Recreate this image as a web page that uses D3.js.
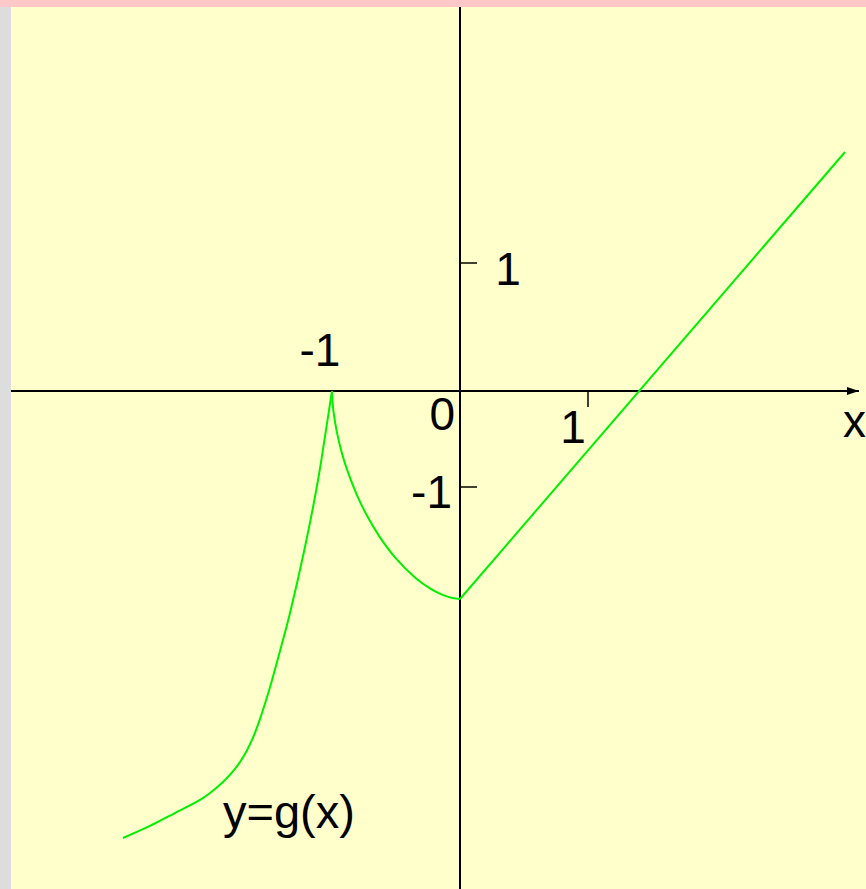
<!DOCTYPE html>
<html>
<head>
<meta charset="utf-8">
<script src="https://cdn.jsdelivr.net/npm/d3@7"></script>
<style>
  body { margin: 0; background: #ffffcc; }
  svg { display: block; }
  text { font-family: "Liberation Sans", Arial, sans-serif; fill: #000; }
</style>
</head>
<body>
<div id="chart"></div>
<script>
// Branche gauche (x < -1), croissante jusqu'au point de rebroussement
const brancheGauche = [
    [-2.633, -3.492], [-2.422, -3.398], [-2.227, -3.297], [-2.031, -3.195],
    [-1.953, -3.141], [-1.852, -3.055], [-1.758, -2.953], [-1.680, -2.836],
    [-1.609, -2.688], [-1.547, -2.516], [-1.484, -2.313], [-1.406, -2.031],
    [-1.328, -1.734], [-1.211, -1.219], [-1.109, -0.695], [-1.047, -0.305],
    [-1, 0]
];

// Arc entre -1 et 0
const arc = [
    [-1, 0], [-0.996, -0.081], [-0.988, -0.163], [-0.961, -0.325],
    [-0.922, -0.488], [-0.870, -0.650], [-0.805, -0.813], [-0.726, -0.975],
    [-0.629, -1.138], [-0.508, -1.300], [-0.345, -1.463], [-0.232, -1.544],
    [-0.136, -1.593], [-0.060, -1.617], [0, -1.625]
];

// Demi-droite pour x >= 0
const droite = [[0, -1.625], [3.008, 1.867]];

// Graduations (valeur, libellé)
const ticksX = [{ value: 1, label: "1" }];
const ticksY = [{ value: 1, label: "1" }, { value: -0.75, label: "-1" }];

function createChart() {
    const width = 866;
    const height = 889;

    const x = d3.scaleLinear().domain([-1, 1]).range([332, 588]);
    const y = d3.scaleLinear().domain([-1, 1]).range([519, 263]);

    const svg = d3.select("#chart")
        .append("svg")
        .attr("width", width)
        .attr("height", height);

    // Fond
    svg.append("rect").attr("width", width).attr("height", height).attr("fill", "#ffffcc");
    svg.append("rect").attr("x", 0).attr("y", 0).attr("width", 11).attr("height", height).attr("fill", "#dddddd");
    svg.append("rect").attr("x", 0).attr("y", 0).attr("width", width).attr("height", 7).attr("fill", "#ffc8c8");

    // Flèche
    svg.append("defs").append("marker")
        .attr("id", "fleche")
        .attr("viewBox", "0 0 12 8")
        .attr("refX", 12).attr("refY", 4)
        .attr("markerWidth", 12).attr("markerHeight", 8)
        .attr("markerUnits", "userSpaceOnUse")
        .attr("orient", "auto")
        .append("path")
        .attr("d", "M0,0 L12,4 L0,8 Z")
        .attr("fill", "#000");

    // Axes
    svg.append("line")
        .attr("x1", 11).attr("x2", 859)
        .attr("y1", y(0)).attr("y2", y(0))
        .attr("stroke", "#000").attr("stroke-width", 2)
        .attr("marker-end", "url(#fleche)");

    svg.append("line")
        .attr("x1", x(0)).attr("x2", x(0))
        .attr("y1", 7).attr("y2", height)
        .attr("stroke", "#000").attr("stroke-width", 2);

    // Graduations
    svg.selectAll(".tick-x")
        .data(ticksX)
        .enter()
        .append("line")
        .attr("x1", d => x(d.value)).attr("x2", d => x(d.value))
        .attr("y1", y(0)).attr("y2", y(0) + 16)
        .attr("stroke", "#000").attr("stroke-width", 1.5);

    svg.selectAll(".tick-x-label")
        .data(ticksX)
        .enter()
        .append("text")
        .attr("x", d => x(d.value) - 15)
        .attr("y", y(0) + 52)
        .attr("text-anchor", "middle")
        .attr("font-size", 46)
        .text(d => d.label);

    svg.selectAll(".tick-y")
        .data(ticksY)
        .enter()
        .append("line")
        .attr("x1", x(0)).attr("x2", x(0) + 17)
        .attr("y1", d => y(d.value)).attr("y2", d => y(d.value))
        .attr("stroke", "#000").attr("stroke-width", 1.5);

    svg.selectAll(".tick-y-label")
        .data(ticksY)
        .enter()
        .append("text")
        .attr("x", d => d.value > 0 ? x(0) + 48 : x(0) - 8)
        .attr("y", d => y(d.value) + (d.value > 0 ? 22 : 21))
        .attr("text-anchor", d => d.value > 0 ? "middle" : "end")
        .attr("font-size", 46)
        .text(d => d.label);

    // Origine et -1 au-dessus du point de rebroussement
    svg.append("text")
        .attr("x", x(0) - 5).attr("y", y(0) + 39)
        .attr("text-anchor", "end")
        .attr("font-size", 46)
        .text("0");

    svg.append("text")
        .attr("x", x(-1) - 12).attr("y", y(0) - 25)
        .attr("text-anchor", "middle")
        .attr("font-size", 46)
        .text("-1");

    svg.append("text")
        .attr("x", 843).attr("y", y(0) + 46)
        .attr("font-size", 46)
        .text("x");

    // Courbe
    const ligne = d3.line()
        .x(d => x(d[0]))
        .y(d => y(d[1]))
        .curve(d3.curveCatmullRom.alpha(0.5));

    svg.selectAll(".courbe")
        .data([brancheGauche, arc, droite])
        .enter()
        .append("path")
        .attr("class", "courbe")
        .attr("d", ligne)
        .attr("fill", "none")
        .attr("stroke", "#00f000")
        .attr("stroke-width", 2);

    svg.append("text")
        .attr("x", 223).attr("y", 828)
        .attr("font-size", 47)
        .text("y=g(x)");
}

createChart();
</script>
</body>
</html>
